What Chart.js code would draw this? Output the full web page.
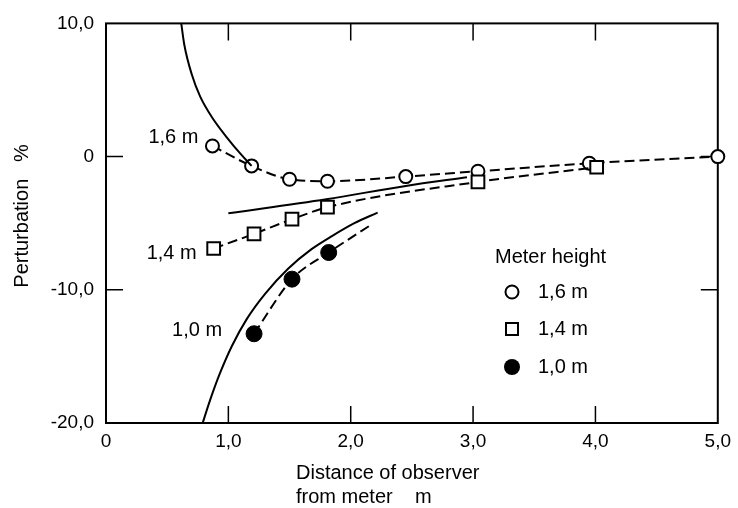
<!DOCTYPE html>
<html>
<head>
<meta charset="utf-8">
<script src="https://cdn.jsdelivr.net/npm/chart.js@4"></script>
<style>
  body { margin: 0; background: #fff; }
</style>
</head>
<body>
<canvas id="chart-perturbation" width="738" height="508"></canvas>
<script>
// measured perturbation, meter height 1,6 m
var obs16X = [0.87, 1.19, 1.50, 1.81, 2.45, 3.04, 3.95, 5.0];
var obs16Y = [0.8, -0.7, -1.7, -1.85, -1.5, -1.1, -0.5, 0];

// meter height 1,4 m
var obs14X = [0.88, 1.21, 1.52, 1.81, 3.04, 4.01];
var obs14Y = [-6.9, -5.8, -4.7, -3.8, -1.9, -0.8];

// meter height 1,0 m
var obs10X = [1.21, 1.52, 1.82];
var obs10Y = [-13.3, -9.2, -7.2];
var fit10X = [1.21, 1.52, 1.82, 2.17];
var fit10Y = [-13.3, -9.2, -7.2, -5.1];

// calculated curves
var calc16X = [0.615, 0.64, 0.70, 0.77, 0.87, 1.0, 1.1, 1.19];
var calc16Y = [10, 8.4, 6.2, 4.5, 2.9, 1.3, 0.2, -0.7];
var calc14X = [1.0, 1.8, 2.45, 2.95];
var calc14Y = [-4.25, -3.2, -2.2, -1.55];
var calc10X = [0.79, 0.85, 0.93, 1.03, 1.15, 1.30, 1.49, 1.68, 1.85, 2.03, 2.22];
var calc10Y = [-20, -18.3, -16.3, -14.2, -12.2, -10.3, -8.4, -6.95, -5.95, -5.0, -4.2];

var xTickLabels = ["0", "1,0", "2,0", "3,0", "4,0", "5,0"];
var yTickValues = [-20, -10, 0, 10];
var yTickLabels = ["-20,0", "-10,0", "0", "10,0"];
var seriesNames = ["1,6 m", "1,4 m", "1,0 m"];

var FONT = "'Liberation Sans', Arial, sans-serif";

function pts(xs, ys) {
    return xs.map(function(x, i) { return { x: x, y: ys[i] }; });
}

var solid = { borderColor: "#000", borderWidth: 2, pointRadius: 0, showLine: true, cubicInterpolationMode: "monotone" };
var dashed = { borderColor: "#000", borderWidth: 2, borderDash: [10, 5], showLine: true, cubicInterpolationMode: "monotone", clip: false };

// box with inward ticks
var framePlugin = {
    id: "frame",
    beforeDatasetsDraw: function(chart) {
        var ctx = chart.ctx, a = chart.chartArea, sx = chart.scales.x, sy = chart.scales.y;
        ctx.save();
        ctx.strokeStyle = "#000";
        ctx.lineWidth = 2;
        ctx.strokeRect(a.left, a.top, a.right - a.left, a.bottom - a.top);
        ctx.lineWidth = 1.5;
        ctx.beginPath();
        [1, 2, 3, 4].forEach(function(v) {
            var px = sx.getPixelForValue(v);
            ctx.moveTo(px, a.bottom); ctx.lineTo(px, a.bottom - 17);
            ctx.moveTo(px, a.top); ctx.lineTo(px, a.top + 17);
        });
        [0, -10].forEach(function(v) {
            var py = sy.getPixelForValue(v);
            ctx.moveTo(a.left, py); ctx.lineTo(a.left + 17, py);
            ctx.moveTo(a.right, py); ctx.lineTo(a.right - 17, py);
        });
        ctx.stroke();
        ctx.restore();
    }
};

// axis titles, curve names and the legend box
var textPlugin = {
    id: "texts",
    afterDraw: function(chart) {
        var ctx = chart.ctx, sx = chart.scales.x, sy = chart.scales.y;
        ctx.save();
        ctx.fillStyle = "#000";
        ctx.font = "20px " + FONT;
        ctx.textBaseline = "middle";

        // y title
        ctx.save();
        ctx.translate(22, 216);
        ctx.rotate(-Math.PI / 2);
        ctx.textAlign = "center";
        ctx.fillText("Perturbation   %", 0, 0);
        ctx.restore();

        // x title
        ctx.textAlign = "left";
        ctx.fillText("Distance of observer", 296, 473);
        ctx.fillText("from meter    m", 296, 497);

        // names next to the first point of each series
        ctx.textAlign = "right";
        ctx.fillText(seriesNames[0], sx.getPixelForValue(obs16X[0]) - 14, sy.getPixelForValue(obs16Y[0]) - 8);
        ctx.fillText(seriesNames[1], sx.getPixelForValue(obs14X[0]) - 17, sy.getPixelForValue(obs14Y[0]) + 5);
        ctx.fillText(seriesNames[2], sx.getPixelForValue(obs10X[0]) - 32, sy.getPixelForValue(obs10Y[0]) - 3);

        // legend
        ctx.textAlign = "left";
        ctx.fillText("Meter height", 495, 257);
        var rows = [292, 329, 367];
        ctx.lineWidth = 2;
        ctx.strokeStyle = "#000";
        ctx.fillStyle = "#fff";
        ctx.beginPath(); ctx.arc(512, rows[0], 6.5, 0, Math.PI * 2); ctx.fill(); ctx.stroke();
        ctx.fillRect(506, rows[1] - 6, 12, 12); ctx.strokeRect(506, rows[1] - 6, 12, 12);
        ctx.fillStyle = "#000";
        ctx.beginPath(); ctx.arc(512, rows[2], 8, 0, Math.PI * 2); ctx.fill();
        rows.forEach(function(r, i) { ctx.fillText(seriesNames[i], 538, r); });
        ctx.restore();
    }
};

var ctx = document.getElementById("chart-perturbation");
var chart = new Chart(ctx, {
    type: "scatter",
    data: {
        datasets: [
            Object.assign({ data: pts(calc16X, calc16Y) }, solid),
            Object.assign({ data: pts(calc14X, calc14Y) }, solid),
            Object.assign({ data: pts(calc10X, calc10Y) }, solid),
            Object.assign({ data: pts(fit10X, fit10Y), pointRadius: 0 }, dashed),
            Object.assign({ data: pts(obs14X, obs14Y), pointStyle: "rect", pointRadius: 9,
                pointBackgroundColor: "#fff", pointBorderColor: "#000", pointBorderWidth: 2 }, dashed),
            Object.assign({ data: pts(obs16X, obs16Y), pointStyle: "circle", pointRadius: 6.5,
                pointBackgroundColor: "#fff", pointBorderColor: "#000", pointBorderWidth: 2 }, dashed),
            { data: pts(obs10X, obs10Y), pointStyle: "circle", pointRadius: 8, pointBackgroundColor: "#000",
                pointBorderColor: "#000", showLine: false, clip: false }
        ]
    },
    options: {
        responsive: false,
        animation: false,
        layout: { padding: { top: 18, right: 16, left: 0, bottom: 0 } },
        plugins: { legend: { display: false }, tooltip: { enabled: false } },
        scales: {
            x: {
                type: "linear", min: 0, max: 5,
                grid: { display: false, drawTicks: false },
                border: { display: false },
                ticks: {
                    stepSize: 1, padding: 7, color: "#000", font: { family: FONT, size: 19 },
                    callback: function(v) { return xTickLabels[v]; }
                },
                afterFit: function(scale) { scale.height = 85; }
            },
            y: {
                min: -20, max: 10,
                grid: { display: false, drawTicks: false },
                border: { display: false },
                ticks: {
                    stepSize: 10, padding: 12, color: "#000", font: { family: FONT, size: 19 },
                    callback: function(v) { return yTickLabels[yTickValues.indexOf(v)]; }
                },
                afterFit: function(scale) { scale.width = 106; }
            }
        }
    },
    plugins: [framePlugin, textPlugin]
});
</script>
</body>
</html>
